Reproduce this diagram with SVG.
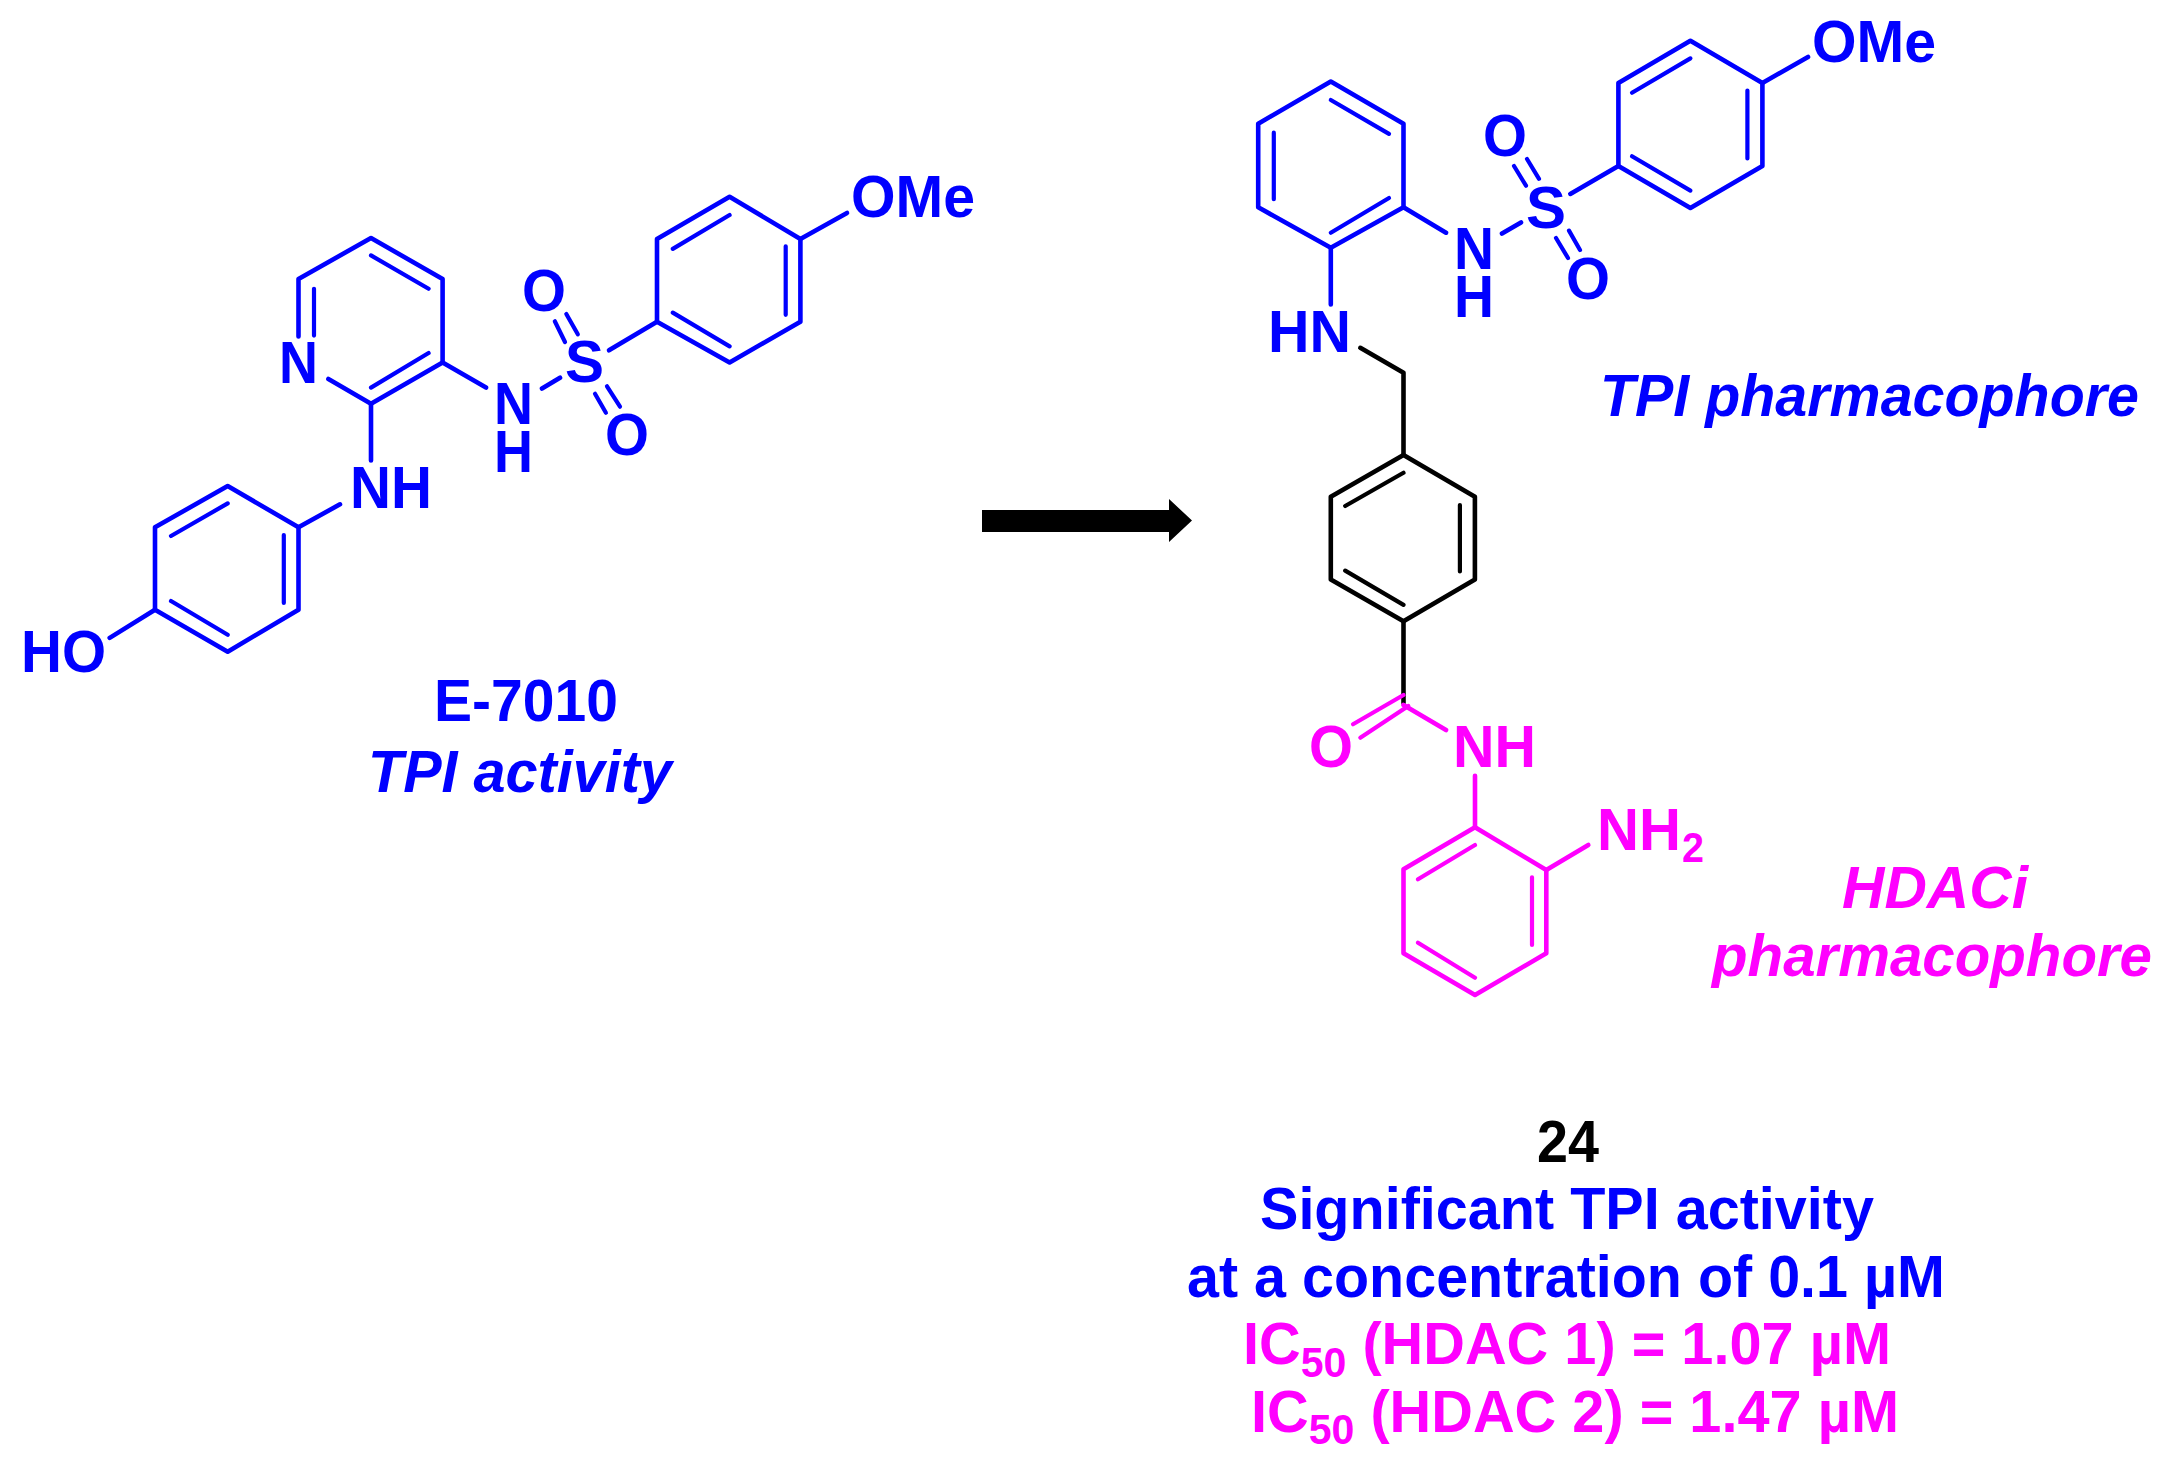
<svg xmlns="http://www.w3.org/2000/svg" width="2171" height="1460" viewBox="0 0 2171 1460">
<style>
.b{stroke:#0000ff}.k{stroke:#000}.m{stroke:#ff00ff}
path{fill:none;stroke-width:4.6;stroke-linecap:round;stroke-linejoin:round}
.in{stroke-width:4.2}
text{font-family:"Liberation Sans",Arial,sans-serif;font-weight:700;font-size:59px}
.tb{fill:#0000ff}.tm{fill:#ff00ff}.tk{fill:#000}
.i{font-style:italic}
.sub{font-size:42px}
</style>
<rect width="2171" height="1460" fill="#fff"/>
<g id="connectors">
<g id="e7010-bonds" class="b">
<path class="b" d="M298.5 336.5V279L371 238L442.6 279V362.5L371 403.7L328.4 379"/>
<path class="b in" d="M314 288.8V335.6M371 255.4L428.6 288.8M371 387.6L428.6 353"/>
<path class="b" d="M371 403.7V460.5M442.6 362.5L486 387.6M542 388.5L560 377.7"/>
<path class="b in" d="M554.8 321.3L565 342M566.3 314L577.8 334.3M595 393.7L605.9 412.8M607 386.3L620 406.7"/>
<path class="b" d="M609 350.3L657 321.7"/>
<path class="b" d="M657 238.9L729.6 196.8L800.4 238.9V321.7L729.6 362.5L657 321.7Z"/>
<path class="b in" d="M672.8 248.9L729.6 215M785.7 246.3V314.8M672.8 312.6L729.6 346.4"/>
<path class="b" d="M800.4 238.9L847 212.9"/>
<path class="b" d="M155 527.3L227.7 486L298.5 527.3V609.7L227.7 651.7L155 609.7Z"/>
<path class="b in" d="M171 536L227.7 503.4M283.8 535V603M171 601L227.7 634.8"/>
<path class="b" d="M298.5 527.3L340 504.3M155 609.7L109.7 637.9"/>
</g>
<g id="compound24-bonds">
<path class="b" d="M1258.2 123.7L1330.8 81.6L1403.5 123.7V207.3L1330.8 247.8L1258.2 207.3Z"/>
<path class="b in" d="M1330.8 100L1389 133.9M1273.8 132.7V199.2M1330.8 232.7L1389 198"/>
<path class="b" d="M1330.8 247.8V304.5M1403.5 207.3L1446 232.7M1502 233.5L1521 222.4"/>
<path class="b in" d="M1514 166L1526 185.7M1527 159L1539 178.8M1556 238L1568 258M1569 230.6L1580 250"/>
<path class="b" d="M1570.3 193.9L1618.4 166"/>
<path class="b" d="M1618.4 82.9L1690.4 40.8L1762.4 82.9V166L1690.4 208L1618.4 166Z"/>
<path class="b in" d="M1632 92.7L1690.4 58.4M1747.4 90.6V158.4M1632 156.3L1690.4 190.6"/>
<path class="b" d="M1762.4 82.9L1808 57"/>
<path class="k" d="M1360.3 347.8L1403.5 372.7V455"/>
<path class="k" d="M1403.5 455L1474.9 496.7V579.6L1403.5 621.2L1330.8 579.6V496.7Z"/>
<path class="k in" d="M1345.2 506L1403.5 472.7M1459.9 505V571.4M1345.2 570.6L1403.5 604.9"/>
<path class="k" d="M1403.5 621.2V703"/>
<path class="m in" d="M1403.5 695L1353 724.3M1408.3 706L1360.3 737.7"/>
<path class="m" d="M1403.5 705L1446 730M1475 775.7V827.3"/>
<path class="m" d="M1403.5 869.3L1475 827.3L1546.3 870V953.3L1475 995L1403.5 953.3Z"/>
<path class="m in" d="M1418 879.3L1475 845M1532 877.3V945M1418 942.7L1475 977.7"/>
<path class="m" d="M1546.3 870L1588.3 845"/>
</g>
<polygon id="reaction-arrow" fill="#000" points="982,510 1169,510 1169,499 1192,520.5 1169,542 1169,532 982,532"/>
</g>
<g id="e7010-labels" class="tb">
<text class="tb" x="279" y="383" textLength="39" lengthAdjust="spacingAndGlyphs">N</text>
<text class="tb" x="350" y="508" textLength="82" lengthAdjust="spacingAndGlyphs">NH</text>
<text class="tb" x="494" y="424" textLength="39" lengthAdjust="spacingAndGlyphs">N</text>
<text class="tb" x="494" y="472" textLength="39" lengthAdjust="spacingAndGlyphs">H</text>
<text class="tb" x="565" y="382" textLength="39" lengthAdjust="spacingAndGlyphs">S</text>
<text class="tb" x="522" y="311" textLength="44" lengthAdjust="spacingAndGlyphs">O</text>
<text class="tb" x="605" y="455" textLength="44" lengthAdjust="spacingAndGlyphs">O</text>
<text class="tb" x="851" y="217" textLength="124" lengthAdjust="spacingAndGlyphs">OMe</text>
<text class="tb" x="21" y="672" textLength="85" lengthAdjust="spacingAndGlyphs">HO</text>
<text class="tb" x="434" y="721" textLength="184" lengthAdjust="spacingAndGlyphs">E-7010</text>
<text class="tb i" x="368" y="792" textLength="304" lengthAdjust="spacingAndGlyphs">TPI activity</text>
</g>
<g id="compound24-labels">
<text class="tb" x="1454" y="268.6" textLength="40" lengthAdjust="spacingAndGlyphs">N</text>
<text class="tb" x="1454" y="317" textLength="40" lengthAdjust="spacingAndGlyphs">H</text>
<text class="tb" x="1526" y="228" textLength="40" lengthAdjust="spacingAndGlyphs">S</text>
<text class="tb" x="1483" y="156" textLength="44" lengthAdjust="spacingAndGlyphs">O</text>
<text class="tb" x="1566" y="299" textLength="44" lengthAdjust="spacingAndGlyphs">O</text>
<text class="tb" x="1812" y="62" textLength="124" lengthAdjust="spacingAndGlyphs">OMe</text>
<text class="tb" x="1268" y="352" textLength="83" lengthAdjust="spacingAndGlyphs">HN</text>
<text class="tb i" x="1600" y="415.5" textLength="539" lengthAdjust="spacingAndGlyphs">TPI pharmacophore</text>
<text class="tm" x="1309" y="766.7" textLength="44" lengthAdjust="spacingAndGlyphs">O</text>
<text class="tm" x="1453" y="766.7" textLength="83" lengthAdjust="spacingAndGlyphs">NH</text>
<text class="tm" x="1597" y="850" textLength="84" lengthAdjust="spacingAndGlyphs">NH</text>
<text class="tm sub" x="1682" y="862.3" textLength="22" lengthAdjust="spacingAndGlyphs">2</text>
<text class="tm i" x="1842" y="908.3" textLength="186" lengthAdjust="spacingAndGlyphs">HDACi</text>
<text class="tm i" x="1712" y="976" textLength="440" lengthAdjust="spacingAndGlyphs">pharmacophore</text>
<text class="tk" x="1537" y="1161.7" textLength="62" lengthAdjust="spacingAndGlyphs">24</text>
<text class="tb" x="1260" y="1229" textLength="614" lengthAdjust="spacingAndGlyphs">Significant TPI activity</text>
<text class="tb" x="1187" y="1296.7" textLength="758" lengthAdjust="spacingAndGlyphs">at a concentration of 0.1 µM</text>
<text class="tm" x="1243" y="1364.3" textLength="648" lengthAdjust="spacingAndGlyphs">IC<tspan class="sub" dy="12.4">50</tspan><tspan dy="-12.4"> (HDAC 1) = 1.07 µM</tspan></text>
<text class="tm" x="1251" y="1431.7" textLength="648" lengthAdjust="spacingAndGlyphs">IC<tspan class="sub" dy="12.4">50</tspan><tspan dy="-12.4"> (HDAC 2) = 1.47 µM</tspan></text>
</g>
</svg>
